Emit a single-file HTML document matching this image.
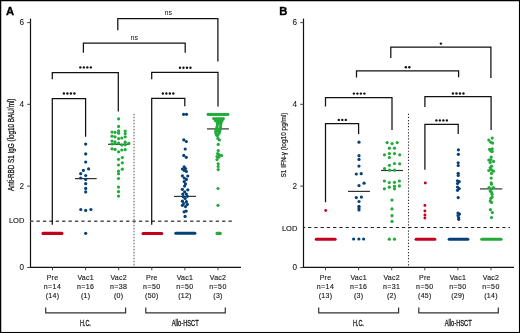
<!DOCTYPE html><html><head><meta charset="utf-8"><style>html,body{margin:0;padding:0;background:#fff;overflow:hidden}svg{display:block;will-change:transform}text{font-family:"Liberation Sans",sans-serif}</style></head><body>
<svg width="520" height="333" viewBox="0 0 520 333">
<rect x="0" y="0" width="520" height="333" fill="#fff"/>
<text x="6.1" y="15.2" font-size="11.2" font-weight="bold" fill="#000" stroke="#000" stroke-width="0.35">A</text>
<line x1="30.5" y1="18.6" x2="30.5" y2="267.9" stroke="#111" stroke-width="1.2"/>
<line x1="29.9" y1="267.3" x2="241" y2="267.3" stroke="#111" stroke-width="1.3"/>
<line x1="27.2" y1="22.6" x2="30.5" y2="22.6" stroke="#444" stroke-width="1"/>
<text x="24" y="25.25" font-size="8.2" text-anchor="end" fill="#222" stroke="#222" stroke-width="0.1">6</text>
<line x1="27.2" y1="104.3" x2="30.5" y2="104.3" stroke="#444" stroke-width="1"/>
<text x="24" y="106.95" font-size="8.2" text-anchor="end" fill="#222" stroke="#222" stroke-width="0.1">4</text>
<line x1="27.2" y1="186.1" x2="30.5" y2="186.1" stroke="#444" stroke-width="1"/>
<text x="24" y="188.75" font-size="8.2" text-anchor="end" fill="#222" stroke="#222" stroke-width="0.1">2</text>
<line x1="27.2" y1="267.5" x2="30.5" y2="267.5" stroke="#444" stroke-width="1"/>
<text x="24" y="270.15" font-size="8.2" text-anchor="end" fill="#222" stroke="#222" stroke-width="0.1">0</text>
<text x="24.3" y="223.2" font-size="8" text-anchor="end" textLength="15.4" lengthAdjust="spacingAndGlyphs" fill="#1a1a1a" stroke="#1a1a1a" stroke-width="0.15">LOD</text>
<text transform="translate(13.7,144.8) rotate(-90)" font-size="8.6" font-weight="normal" text-anchor="middle" textLength="92.4" lengthAdjust="spacingAndGlyphs" fill="#1a1a1a" stroke="#1a1a1a" stroke-width="0.3">Anti-RBD S1 IgG (log10 BAU/ml)</text>
<line x1="52.5" y1="267.3" x2="52.5" y2="270.3" stroke="#444" stroke-width="1"/>
<text x="52.5" y="279.9" font-size="7" text-anchor="middle" fill="#1c1c1c" stroke="#1c1c1c" stroke-width="0.15" letter-spacing="0.25">Pre</text>
<text x="52.5" y="288.8" font-size="7" text-anchor="middle" fill="#1c1c1c" stroke="#1c1c1c" stroke-width="0.15" letter-spacing="0.4">n=14</text>
<text x="52.5" y="297.7" font-size="7" text-anchor="middle" fill="#1c1c1c" stroke="#1c1c1c" stroke-width="0.15" letter-spacing="0.25">(14)</text>
<line x1="85.6" y1="267.3" x2="85.6" y2="270.3" stroke="#444" stroke-width="1"/>
<text x="85.6" y="279.9" font-size="7" text-anchor="middle" fill="#1c1c1c" stroke="#1c1c1c" stroke-width="0.15" letter-spacing="0.25">Vac1</text>
<text x="85.6" y="288.8" font-size="7" text-anchor="middle" fill="#1c1c1c" stroke="#1c1c1c" stroke-width="0.15" letter-spacing="0.4">n=16</text>
<text x="85.6" y="297.7" font-size="7" text-anchor="middle" fill="#1c1c1c" stroke="#1c1c1c" stroke-width="0.15" letter-spacing="0.25">(1)</text>
<line x1="118.7" y1="267.3" x2="118.7" y2="270.3" stroke="#444" stroke-width="1"/>
<text x="118.7" y="279.9" font-size="7" text-anchor="middle" fill="#1c1c1c" stroke="#1c1c1c" stroke-width="0.15" letter-spacing="0.25">Vac2</text>
<text x="118.7" y="288.8" font-size="7" text-anchor="middle" fill="#1c1c1c" stroke="#1c1c1c" stroke-width="0.15" letter-spacing="0.4">n=38</text>
<text x="118.7" y="297.7" font-size="7" text-anchor="middle" fill="#1c1c1c" stroke="#1c1c1c" stroke-width="0.15" letter-spacing="0.25">(0)</text>
<line x1="151.8" y1="267.3" x2="151.8" y2="270.3" stroke="#444" stroke-width="1"/>
<text x="151.8" y="279.9" font-size="7" text-anchor="middle" fill="#1c1c1c" stroke="#1c1c1c" stroke-width="0.15" letter-spacing="0.25">Pre</text>
<text x="151.8" y="288.8" font-size="7" text-anchor="middle" fill="#1c1c1c" stroke="#1c1c1c" stroke-width="0.15" letter-spacing="0.4">n=50</text>
<text x="151.8" y="297.7" font-size="7" text-anchor="middle" fill="#1c1c1c" stroke="#1c1c1c" stroke-width="0.15" letter-spacing="0.25">(50)</text>
<line x1="184.9" y1="267.3" x2="184.9" y2="270.3" stroke="#444" stroke-width="1"/>
<text x="184.9" y="279.9" font-size="7" text-anchor="middle" fill="#1c1c1c" stroke="#1c1c1c" stroke-width="0.15" letter-spacing="0.25">Vac1</text>
<text x="184.9" y="288.8" font-size="7" text-anchor="middle" fill="#1c1c1c" stroke="#1c1c1c" stroke-width="0.15" letter-spacing="0.4">n=50</text>
<text x="184.9" y="297.7" font-size="7" text-anchor="middle" fill="#1c1c1c" stroke="#1c1c1c" stroke-width="0.15" letter-spacing="0.25">(12)</text>
<line x1="218.0" y1="267.3" x2="218.0" y2="270.3" stroke="#444" stroke-width="1"/>
<text x="218.0" y="279.9" font-size="7" text-anchor="middle" fill="#1c1c1c" stroke="#1c1c1c" stroke-width="0.15" letter-spacing="0.25">Vac2</text>
<text x="218.0" y="288.8" font-size="7" text-anchor="middle" fill="#1c1c1c" stroke="#1c1c1c" stroke-width="0.15" letter-spacing="0.4">n=50</text>
<text x="218.0" y="297.7" font-size="7" text-anchor="middle" fill="#1c1c1c" stroke="#1c1c1c" stroke-width="0.15" letter-spacing="0.25">(3)</text>
<path d="M45.7,307.5V312.8H125.6V307.5" fill="none" stroke="#333" stroke-width="1.2"/>
<path d="M145.8,307.5V312.8H225.3V307.5" fill="none" stroke="#333" stroke-width="1.2"/>
<text x="85.4" y="326.2" font-size="9" text-anchor="middle" textLength="11" lengthAdjust="spacingAndGlyphs" fill="#111" stroke="#111" stroke-width="0.3">H.C.</text>
<text x="185.2" y="326.2" font-size="9" text-anchor="middle" textLength="27" lengthAdjust="spacingAndGlyphs" fill="#111" stroke="#111" stroke-width="0.3">Allo-HSCT</text>
<line x1="134" y1="113.8" x2="134" y2="267" stroke="#555" stroke-width="1" stroke-dasharray="1.5,1.5"/>
<line x1="30.1" y1="221.2" x2="232" y2="221.2" stroke="#505050" stroke-width="1.6" stroke-dasharray="3.3,3.1"/>
<path d="M117.8,30.2V18.5H217.9V61.5" fill="none" stroke="#111" stroke-width="1.25"/>
<text x="168.4" y="15.3" font-size="7.2" text-anchor="middle" fill="#111">ns</text>
<path d="M83.4,52.8V43.1H185.2V52.8" fill="none" stroke="#111" stroke-width="1.25"/>
<text x="134.4" y="40" font-size="7.2" text-anchor="middle" fill="#111">ns</text>
<path d="M52.3,79.2V72.5H118.3V111.5" fill="none" stroke="#111" stroke-width="1.25"/>
<circle cx="80.35" cy="67.4" r="1.2" fill="#111"/>
<circle cx="83.85" cy="67.4" r="1.2" fill="#111"/>
<circle cx="87.35" cy="67.4" r="1.2" fill="#111"/>
<circle cx="90.85" cy="67.4" r="1.2" fill="#111"/>
<path d="M52.3,224.7V98.5H85.6V136.7" fill="none" stroke="#111" stroke-width="1.25"/>
<circle cx="63.90" cy="93.45" r="1.2" fill="#111"/>
<circle cx="67.40" cy="93.45" r="1.2" fill="#111"/>
<circle cx="70.90" cy="93.45" r="1.2" fill="#111"/>
<circle cx="74.40" cy="93.45" r="1.2" fill="#111"/>
<path d="M151.7,79.3V72.4H218V106.4" fill="none" stroke="#111" stroke-width="1.25"/>
<circle cx="179.95" cy="67.8" r="1.2" fill="#111"/>
<circle cx="183.45" cy="67.8" r="1.2" fill="#111"/>
<circle cx="186.95" cy="67.8" r="1.2" fill="#111"/>
<circle cx="190.45" cy="67.8" r="1.2" fill="#111"/>
<path d="M151.7,224.7V98.4H184.8V106.3" fill="none" stroke="#111" stroke-width="1.25"/>
<circle cx="162.85" cy="93.5" r="1.2" fill="#111"/>
<circle cx="166.35" cy="93.5" r="1.2" fill="#111"/>
<circle cx="169.85" cy="93.5" r="1.2" fill="#111"/>
<circle cx="173.35" cy="93.5" r="1.2" fill="#111"/>
<line x1="75" y1="178.6" x2="96.7" y2="178.6" stroke="#333" stroke-width="1.2"/>
<line x1="108" y1="144.3" x2="129.7" y2="144.3" stroke="#333" stroke-width="1.2"/>
<line x1="174" y1="196.4" x2="196" y2="196.4" stroke="#333" stroke-width="1.2"/>
<line x1="207" y1="128.9" x2="228.9" y2="128.9" stroke="#333" stroke-width="1.2"/>
<line x1="348" y1="191.4" x2="369.9" y2="191.4" stroke="#333" stroke-width="1.2"/>
<line x1="381" y1="170.5" x2="403" y2="170.5" stroke="#333" stroke-width="1.2"/>
<line x1="480" y1="188.9" x2="502.3" y2="188.9" stroke="#333" stroke-width="1.2"/>
<line x1="43.0" y1="233.4" x2="61.9" y2="233.4" stroke="#c4001f" stroke-width="3.1" stroke-linecap="round"/>
<circle cx="85.7" cy="144.1" r="1.6" fill="#054078"/>
<circle cx="85.7" cy="153.9" r="1.6" fill="#054078"/>
<circle cx="85.7" cy="162" r="1.6" fill="#054078"/>
<circle cx="88.6" cy="168.9" r="1.6" fill="#054078"/>
<circle cx="83.4" cy="170.4" r="1.6" fill="#054078"/>
<circle cx="80.7" cy="173.7" r="1.6" fill="#054078"/>
<circle cx="85.7" cy="175.5" r="1.6" fill="#054078"/>
<circle cx="80.7" cy="178" r="1.6" fill="#054078"/>
<circle cx="85.7" cy="179.4" r="1.6" fill="#054078"/>
<circle cx="85.7" cy="183.7" r="1.6" fill="#054078"/>
<circle cx="85.7" cy="188.4" r="1.6" fill="#054078"/>
<circle cx="85.7" cy="191.9" r="1.6" fill="#054078"/>
<circle cx="80.8" cy="209.5" r="1.6" fill="#054078"/>
<circle cx="85.7" cy="210.4" r="1.6" fill="#054078"/>
<circle cx="90.9" cy="209.5" r="1.6" fill="#054078"/>
<circle cx="85.7" cy="233.3" r="1.6" fill="#054078"/>
<circle cx="118.6" cy="118.8" r="1.6" fill="#22aa3a"/>
<circle cx="118.6" cy="126.4" r="1.6" fill="#22aa3a"/>
<circle cx="112" cy="132" r="1.6" fill="#22aa3a"/>
<circle cx="115" cy="132.3" r="1.6" fill="#22aa3a"/>
<circle cx="118.6" cy="130.8" r="1.6" fill="#22aa3a"/>
<circle cx="125.2" cy="131" r="1.6" fill="#22aa3a"/>
<circle cx="118.6" cy="133.2" r="1.6" fill="#22aa3a"/>
<circle cx="125.2" cy="133.6" r="1.6" fill="#22aa3a"/>
<circle cx="112" cy="136.2" r="1.6" fill="#22aa3a"/>
<circle cx="115" cy="136.8" r="1.6" fill="#22aa3a"/>
<circle cx="118.6" cy="138.6" r="1.6" fill="#22aa3a"/>
<circle cx="121.8" cy="138" r="1.6" fill="#22aa3a"/>
<circle cx="125.2" cy="136.8" r="1.6" fill="#22aa3a"/>
<circle cx="112" cy="141" r="1.6" fill="#22aa3a"/>
<circle cx="115" cy="141.9" r="1.6" fill="#22aa3a"/>
<circle cx="112" cy="144" r="1.6" fill="#22aa3a"/>
<circle cx="115" cy="143.6" r="1.6" fill="#22aa3a"/>
<circle cx="118.6" cy="143.1" r="1.6" fill="#22aa3a"/>
<circle cx="121.8" cy="145" r="1.6" fill="#22aa3a"/>
<circle cx="125.2" cy="142.2" r="1.6" fill="#22aa3a"/>
<circle cx="125.2" cy="144.8" r="1.6" fill="#22aa3a"/>
<circle cx="128.8" cy="143.4" r="1.6" fill="#22aa3a"/>
<circle cx="112" cy="148.8" r="1.6" fill="#22aa3a"/>
<circle cx="115" cy="149.4" r="1.6" fill="#22aa3a"/>
<circle cx="118.6" cy="151.8" r="1.6" fill="#22aa3a"/>
<circle cx="121.8" cy="150" r="1.6" fill="#22aa3a"/>
<circle cx="125.2" cy="149.7" r="1.6" fill="#22aa3a"/>
<circle cx="118.5" cy="159.3" r="1.6" fill="#22aa3a"/>
<circle cx="122.3" cy="157.5" r="1.6" fill="#22aa3a"/>
<circle cx="118.5" cy="165" r="1.6" fill="#22aa3a"/>
<circle cx="122.3" cy="162.8" r="1.6" fill="#22aa3a"/>
<circle cx="118.5" cy="171" r="1.6" fill="#22aa3a"/>
<circle cx="122.3" cy="169.2" r="1.6" fill="#22aa3a"/>
<circle cx="118.5" cy="173.7" r="1.6" fill="#22aa3a"/>
<circle cx="118.5" cy="178.5" r="1.6" fill="#22aa3a"/>
<circle cx="118.5" cy="187.1" r="1.6" fill="#22aa3a"/>
<circle cx="118.5" cy="191.7" r="1.6" fill="#22aa3a"/>
<circle cx="118.5" cy="196.1" r="1.6" fill="#22aa3a"/>
<line x1="143.0" y1="233.5" x2="161.8" y2="233.5" stroke="#c4001f" stroke-width="3.1" stroke-linecap="round"/>
<circle cx="183.6" cy="114.3" r="1.6" fill="#054078"/>
<circle cx="186.5" cy="114.3" r="1.6" fill="#054078"/>
<circle cx="183.8" cy="139.8" r="1.6" fill="#054078"/>
<circle cx="186.3" cy="141.5" r="1.6" fill="#054078"/>
<circle cx="185.2" cy="149" r="1.6" fill="#054078"/>
<circle cx="183.8" cy="155.4" r="1.6" fill="#054078"/>
<circle cx="186.3" cy="157.3" r="1.6" fill="#054078"/>
<circle cx="184.2" cy="166.8" r="1.6" fill="#054078"/>
<circle cx="182.4" cy="169" r="1.6" fill="#054078"/>
<circle cx="185.5" cy="168.6" r="1.6" fill="#054078"/>
<circle cx="184.2" cy="170.4" r="1.6" fill="#054078"/>
<circle cx="186.4" cy="171.5" r="1.6" fill="#054078"/>
<circle cx="182.4" cy="175.8" r="1.6" fill="#054078"/>
<circle cx="187.8" cy="176" r="1.6" fill="#054078"/>
<circle cx="184.2" cy="178" r="1.6" fill="#054078"/>
<circle cx="186.4" cy="179.4" r="1.6" fill="#054078"/>
<circle cx="184.2" cy="181.6" r="1.6" fill="#054078"/>
<circle cx="185.5" cy="183.9" r="1.6" fill="#054078"/>
<circle cx="184.6" cy="186.1" r="1.6" fill="#054078"/>
<circle cx="182.4" cy="189.3" r="1.6" fill="#054078"/>
<circle cx="187.8" cy="189.8" r="1.6" fill="#054078"/>
<circle cx="184.6" cy="191.8" r="1.6" fill="#054078"/>
<circle cx="182.8" cy="194" r="1.6" fill="#054078"/>
<circle cx="186.4" cy="194" r="1.6" fill="#054078"/>
<circle cx="183.3" cy="196.7" r="1.6" fill="#054078"/>
<circle cx="187.3" cy="196.3" r="1.6" fill="#054078"/>
<circle cx="185.1" cy="198.5" r="1.6" fill="#054078"/>
<circle cx="182.4" cy="201.2" r="1.6" fill="#054078"/>
<circle cx="186.4" cy="201.7" r="1.6" fill="#054078"/>
<circle cx="183.7" cy="203.5" r="1.6" fill="#054078"/>
<circle cx="187.3" cy="204.4" r="1.6" fill="#054078"/>
<circle cx="182.4" cy="205.3" r="1.6" fill="#054078"/>
<circle cx="185.5" cy="206.6" r="1.6" fill="#054078"/>
<circle cx="186.2" cy="211.1" r="1.6" fill="#054078"/>
<circle cx="184.1" cy="211.8" r="1.6" fill="#054078"/>
<circle cx="185.1" cy="216.4" r="1.6" fill="#054078"/>
<line x1="175.8" y1="233.3" x2="194.9" y2="233.3" stroke="#054078" stroke-width="3.1" stroke-linecap="round"/>
<circle cx="208.2" cy="114.4" r="1.6" fill="#22aa3a"/>
<circle cx="210.16" cy="114.4" r="1.6" fill="#22aa3a"/>
<circle cx="212.12" cy="114.4" r="1.6" fill="#22aa3a"/>
<circle cx="214.08" cy="114.4" r="1.6" fill="#22aa3a"/>
<circle cx="216.04" cy="114.4" r="1.6" fill="#22aa3a"/>
<circle cx="218.0" cy="114.4" r="1.6" fill="#22aa3a"/>
<circle cx="219.96" cy="114.4" r="1.6" fill="#22aa3a"/>
<circle cx="221.92" cy="114.4" r="1.6" fill="#22aa3a"/>
<circle cx="223.88" cy="114.4" r="1.6" fill="#22aa3a"/>
<circle cx="225.84" cy="114.4" r="1.6" fill="#22aa3a"/>
<circle cx="227.8" cy="114.4" r="1.6" fill="#22aa3a"/>
<circle cx="213.7" cy="118.6" r="1.6" fill="#22aa3a"/>
<circle cx="216.1" cy="118.6" r="1.6" fill="#22aa3a"/>
<circle cx="218.5" cy="118.6" r="1.6" fill="#22aa3a"/>
<circle cx="220.9" cy="118.6" r="1.6" fill="#22aa3a"/>
<circle cx="223.3" cy="118.6" r="1.6" fill="#22aa3a"/>
<circle cx="215.5" cy="120.7" r="1.6" fill="#22aa3a"/>
<circle cx="218.4" cy="120.7" r="1.6" fill="#22aa3a"/>
<circle cx="220.6" cy="120.7" r="1.6" fill="#22aa3a"/>
<circle cx="222.1" cy="120.7" r="1.6" fill="#22aa3a"/>
<circle cx="217.3" cy="122.8" r="1.6" fill="#22aa3a"/>
<circle cx="219.2" cy="122.8" r="1.6" fill="#22aa3a"/>
<circle cx="221.1" cy="122.8" r="1.6" fill="#22aa3a"/>
<circle cx="217.5" cy="124.9" r="1.6" fill="#22aa3a"/>
<circle cx="220.7" cy="124.9" r="1.6" fill="#22aa3a"/>
<circle cx="216.9" cy="127" r="1.6" fill="#22aa3a"/>
<circle cx="220.5" cy="127" r="1.6" fill="#22aa3a"/>
<circle cx="215.9" cy="129.1" r="1.6" fill="#22aa3a"/>
<circle cx="218.9" cy="129.1" r="1.6" fill="#22aa3a"/>
<circle cx="220.5" cy="129.1" r="1.6" fill="#22aa3a"/>
<circle cx="215.7" cy="131.2" r="1.6" fill="#22aa3a"/>
<circle cx="217.7" cy="131.2" r="1.6" fill="#22aa3a"/>
<circle cx="219.7" cy="131.2" r="1.6" fill="#22aa3a"/>
<circle cx="215.9" cy="133.3" r="1.6" fill="#22aa3a"/>
<circle cx="219.1" cy="133.3" r="1.6" fill="#22aa3a"/>
<circle cx="216.7" cy="135.3" r="1.6" fill="#22aa3a"/>
<circle cx="217.7" cy="135.3" r="1.6" fill="#22aa3a"/>
<circle cx="217.9" cy="138.4" r="1.6" fill="#22aa3a"/>
<circle cx="219.4" cy="140" r="1.6" fill="#22aa3a"/>
<circle cx="218.2" cy="144.4" r="1.6" fill="#22aa3a"/>
<circle cx="218.2" cy="150.6" r="1.6" fill="#22aa3a"/>
<circle cx="217.6" cy="153.6" r="1.6" fill="#22aa3a"/>
<circle cx="219.4" cy="154.8" r="1.6" fill="#22aa3a"/>
<circle cx="221.6" cy="155.6" r="1.6" fill="#22aa3a"/>
<circle cx="217" cy="156.6" r="1.6" fill="#22aa3a"/>
<circle cx="218.8" cy="157.2" r="1.6" fill="#22aa3a"/>
<circle cx="217" cy="159.6" r="1.6" fill="#22aa3a"/>
<circle cx="218.2" cy="163.8" r="1.6" fill="#22aa3a"/>
<circle cx="218.2" cy="166.5" r="1.6" fill="#22aa3a"/>
<circle cx="218.2" cy="169.6" r="1.6" fill="#22aa3a"/>
<circle cx="218" cy="188.5" r="1.6" fill="#22aa3a"/>
<circle cx="218" cy="205.3" r="1.6" fill="#22aa3a"/>
<line x1="217.0" y1="233.4" x2="220.3" y2="233.4" stroke="#22aa3a" stroke-width="3.1" stroke-linecap="round"/>
<text x="279.3" y="14.8" font-size="11.2" font-weight="bold" fill="#000" stroke="#000" stroke-width="0.35">B</text>
<line x1="303.5" y1="18.6" x2="303.5" y2="267.9" stroke="#111" stroke-width="1.2"/>
<line x1="302.9" y1="267.3" x2="514" y2="267.3" stroke="#111" stroke-width="1.3"/>
<line x1="300.2" y1="22.6" x2="303.5" y2="22.6" stroke="#444" stroke-width="1"/>
<text x="297" y="25.25" font-size="8.2" text-anchor="end" fill="#222" stroke="#222" stroke-width="0.1">6</text>
<line x1="300.2" y1="104.3" x2="303.5" y2="104.3" stroke="#444" stroke-width="1"/>
<text x="297" y="106.95" font-size="8.2" text-anchor="end" fill="#222" stroke="#222" stroke-width="0.1">4</text>
<line x1="300.2" y1="186.1" x2="303.5" y2="186.1" stroke="#444" stroke-width="1"/>
<text x="297" y="188.75" font-size="8.2" text-anchor="end" fill="#222" stroke="#222" stroke-width="0.1">2</text>
<line x1="300.2" y1="267.5" x2="303.5" y2="267.5" stroke="#444" stroke-width="1"/>
<text x="297" y="270.15" font-size="8.2" text-anchor="end" fill="#222" stroke="#222" stroke-width="0.1">0</text>
<text x="297.3" y="230.6" font-size="8" text-anchor="end" textLength="15.4" lengthAdjust="spacingAndGlyphs" fill="#1a1a1a" stroke="#1a1a1a" stroke-width="0.15">LOD</text>
<text transform="translate(286.4,145) rotate(-90)" font-size="7.4" font-weight="normal" text-anchor="middle" textLength="65" lengthAdjust="spacingAndGlyphs" fill="#1a1a1a" stroke="#1a1a1a" stroke-width="0.2">S1 IFN-γ (log10 pg/ml)</text>
<line x1="325.5" y1="267.3" x2="325.5" y2="270.3" stroke="#444" stroke-width="1"/>
<text x="325.5" y="279.9" font-size="7" text-anchor="middle" fill="#1c1c1c" stroke="#1c1c1c" stroke-width="0.15" letter-spacing="0.25">Pre</text>
<text x="325.5" y="288.8" font-size="7" text-anchor="middle" fill="#1c1c1c" stroke="#1c1c1c" stroke-width="0.15" letter-spacing="0.4">n=14</text>
<text x="325.5" y="297.7" font-size="7" text-anchor="middle" fill="#1c1c1c" stroke="#1c1c1c" stroke-width="0.15" letter-spacing="0.25">(13)</text>
<line x1="358.6" y1="267.3" x2="358.6" y2="270.3" stroke="#444" stroke-width="1"/>
<text x="358.6" y="279.9" font-size="7" text-anchor="middle" fill="#1c1c1c" stroke="#1c1c1c" stroke-width="0.15" letter-spacing="0.25">Vac1</text>
<text x="358.6" y="288.8" font-size="7" text-anchor="middle" fill="#1c1c1c" stroke="#1c1c1c" stroke-width="0.15" letter-spacing="0.4">n=16</text>
<text x="358.6" y="297.7" font-size="7" text-anchor="middle" fill="#1c1c1c" stroke="#1c1c1c" stroke-width="0.15" letter-spacing="0.25">(3)</text>
<line x1="391.7" y1="267.3" x2="391.7" y2="270.3" stroke="#444" stroke-width="1"/>
<text x="391.7" y="279.9" font-size="7" text-anchor="middle" fill="#1c1c1c" stroke="#1c1c1c" stroke-width="0.15" letter-spacing="0.25">Vac2</text>
<text x="391.7" y="288.8" font-size="7" text-anchor="middle" fill="#1c1c1c" stroke="#1c1c1c" stroke-width="0.15" letter-spacing="0.4">n=31</text>
<text x="391.7" y="297.7" font-size="7" text-anchor="middle" fill="#1c1c1c" stroke="#1c1c1c" stroke-width="0.15" letter-spacing="0.25">(2)</text>
<line x1="424.8" y1="267.3" x2="424.8" y2="270.3" stroke="#444" stroke-width="1"/>
<text x="424.8" y="279.9" font-size="7" text-anchor="middle" fill="#1c1c1c" stroke="#1c1c1c" stroke-width="0.15" letter-spacing="0.25">Pre</text>
<text x="424.8" y="288.8" font-size="7" text-anchor="middle" fill="#1c1c1c" stroke="#1c1c1c" stroke-width="0.15" letter-spacing="0.4">n=50</text>
<text x="424.8" y="297.7" font-size="7" text-anchor="middle" fill="#1c1c1c" stroke="#1c1c1c" stroke-width="0.15" letter-spacing="0.25">(45)</text>
<line x1="457.9" y1="267.3" x2="457.9" y2="270.3" stroke="#444" stroke-width="1"/>
<text x="457.9" y="279.9" font-size="7" text-anchor="middle" fill="#1c1c1c" stroke="#1c1c1c" stroke-width="0.15" letter-spacing="0.25">Vac1</text>
<text x="457.9" y="288.8" font-size="7" text-anchor="middle" fill="#1c1c1c" stroke="#1c1c1c" stroke-width="0.15" letter-spacing="0.4">n=50</text>
<text x="457.9" y="297.7" font-size="7" text-anchor="middle" fill="#1c1c1c" stroke="#1c1c1c" stroke-width="0.15" letter-spacing="0.25">(29)</text>
<line x1="491.0" y1="267.3" x2="491.0" y2="270.3" stroke="#444" stroke-width="1"/>
<text x="491.0" y="279.9" font-size="7" text-anchor="middle" fill="#1c1c1c" stroke="#1c1c1c" stroke-width="0.15" letter-spacing="0.25">Vac2</text>
<text x="491.0" y="288.8" font-size="7" text-anchor="middle" fill="#1c1c1c" stroke="#1c1c1c" stroke-width="0.15" letter-spacing="0.4">n=50</text>
<text x="491.0" y="297.7" font-size="7" text-anchor="middle" fill="#1c1c1c" stroke="#1c1c1c" stroke-width="0.15" letter-spacing="0.25">(14)</text>
<path d="M318.7,307.5V312.8H398.6V307.5" fill="none" stroke="#333" stroke-width="1.2"/>
<path d="M418.8,307.5V312.8H498.3V307.5" fill="none" stroke="#333" stroke-width="1.2"/>
<text x="358.4" y="326.2" font-size="9" text-anchor="middle" textLength="11" lengthAdjust="spacingAndGlyphs" fill="#111" stroke="#111" stroke-width="0.3">H.C.</text>
<text x="458.2" y="326.2" font-size="9" text-anchor="middle" textLength="27" lengthAdjust="spacingAndGlyphs" fill="#111" stroke="#111" stroke-width="0.3">Allo-HSCT</text>
<line x1="408.5" y1="113.8" x2="408.5" y2="267" stroke="#2a2a2a" stroke-width="1.1" stroke-dasharray="1.2,1.87"/>
<line x1="303.6" y1="227.5" x2="305.2" y2="227.5" stroke="#222" stroke-width="1.1"/>
<line x1="308" y1="227.5" x2="510" y2="227.5" stroke="#222" stroke-width="1.1" stroke-dasharray="3.3,2.965"/>
<path d="M390.8,57.9V47.1H490.9V78.1" fill="none" stroke="#111" stroke-width="1.25"/>
<circle cx="440.90" cy="43.6" r="1.2" fill="#111"/>
<path d="M356.5,77.4V70.8H458.6V77.3" fill="none" stroke="#111" stroke-width="1.25"/>
<circle cx="405.85" cy="67.3" r="1.2" fill="#111"/>
<circle cx="409.35" cy="67.3" r="1.2" fill="#111"/>
<path d="M325.5,106.6V97.5H392V130" fill="none" stroke="#111" stroke-width="1.25"/>
<circle cx="353.90" cy="93.6" r="1.2" fill="#111"/>
<circle cx="357.40" cy="93.6" r="1.2" fill="#111"/>
<circle cx="360.90" cy="93.6" r="1.2" fill="#111"/>
<circle cx="364.40" cy="93.6" r="1.2" fill="#111"/>
<path d="M325.5,202.2V123.5H358.6V134" fill="none" stroke="#111" stroke-width="1.25"/>
<circle cx="338.80" cy="119.9" r="1.2" fill="#111"/>
<circle cx="342.30" cy="119.9" r="1.2" fill="#111"/>
<circle cx="345.80" cy="119.9" r="1.2" fill="#111"/>
<path d="M424.9,106.9V96.5H491.1V130.1" fill="none" stroke="#111" stroke-width="1.25"/>
<circle cx="452.95" cy="93.5" r="1.2" fill="#111"/>
<circle cx="456.45" cy="93.5" r="1.2" fill="#111"/>
<circle cx="459.95" cy="93.5" r="1.2" fill="#111"/>
<circle cx="463.45" cy="93.5" r="1.2" fill="#111"/>
<path d="M424.9,169.7V124.4H458.2V134.1" fill="none" stroke="#111" stroke-width="1.25"/>
<circle cx="436.35" cy="120.4" r="1.2" fill="#111"/>
<circle cx="439.85" cy="120.4" r="1.2" fill="#111"/>
<circle cx="443.35" cy="120.4" r="1.2" fill="#111"/>
<circle cx="446.85" cy="120.4" r="1.2" fill="#111"/>
<circle cx="325.7" cy="210.5" r="1.4" fill="#c4001f"/>
<line x1="316.3" y1="239.3" x2="335.1" y2="239.3" stroke="#c4001f" stroke-width="3.1" stroke-linecap="round"/>
<circle cx="359" cy="142.2" r="1.6" fill="#054078"/>
<circle cx="359" cy="155.7" r="1.6" fill="#054078"/>
<circle cx="359" cy="159.4" r="1.6" fill="#054078"/>
<circle cx="359" cy="166.1" r="1.6" fill="#054078"/>
<circle cx="356.3" cy="174" r="1.6" fill="#054078"/>
<circle cx="361.2" cy="173.7" r="1.6" fill="#054078"/>
<circle cx="359" cy="185.6" r="1.6" fill="#054078"/>
<circle cx="364.1" cy="183.2" r="1.6" fill="#054078"/>
<circle cx="356.3" cy="197.6" r="1.6" fill="#054078"/>
<circle cx="361.4" cy="197.1" r="1.6" fill="#054078"/>
<circle cx="359" cy="201.5" r="1.6" fill="#054078"/>
<circle cx="359" cy="206.3" r="1.6" fill="#054078"/>
<circle cx="359" cy="208.1" r="1.6" fill="#054078"/>
<circle cx="359" cy="209.9" r="1.6" fill="#054078"/>
<circle cx="353.6" cy="239" r="1.6" fill="#054078"/>
<circle cx="358.9" cy="239" r="1.6" fill="#054078"/>
<circle cx="363.6" cy="239" r="1.6" fill="#054078"/>
<circle cx="387.1" cy="142.6" r="1.6" fill="#22aa3a"/>
<circle cx="392.1" cy="143.6" r="1.6" fill="#22aa3a"/>
<circle cx="397.2" cy="142.6" r="1.6" fill="#22aa3a"/>
<circle cx="389.4" cy="148.2" r="1.6" fill="#22aa3a"/>
<circle cx="394.5" cy="148.2" r="1.6" fill="#22aa3a"/>
<circle cx="384.5" cy="154.8" r="1.6" fill="#22aa3a"/>
<circle cx="389.4" cy="153.6" r="1.6" fill="#22aa3a"/>
<circle cx="394.5" cy="153.6" r="1.6" fill="#22aa3a"/>
<circle cx="399.7" cy="154.8" r="1.6" fill="#22aa3a"/>
<circle cx="389.4" cy="157.5" r="1.6" fill="#22aa3a"/>
<circle cx="389.4" cy="165.3" r="1.6" fill="#22aa3a"/>
<circle cx="394.5" cy="163.5" r="1.6" fill="#22aa3a"/>
<circle cx="399.7" cy="163.8" r="1.6" fill="#22aa3a"/>
<circle cx="384.5" cy="168.6" r="1.6" fill="#22aa3a"/>
<circle cx="389.6" cy="170.2" r="1.6" fill="#22aa3a"/>
<circle cx="394.6" cy="170.2" r="1.6" fill="#22aa3a"/>
<circle cx="384.4" cy="181" r="1.6" fill="#22aa3a"/>
<circle cx="389.3" cy="182.5" r="1.6" fill="#22aa3a"/>
<circle cx="394.5" cy="182.3" r="1.6" fill="#22aa3a"/>
<circle cx="399.4" cy="181" r="1.6" fill="#22aa3a"/>
<circle cx="384.4" cy="188.8" r="1.6" fill="#22aa3a"/>
<circle cx="389.3" cy="187.2" r="1.6" fill="#22aa3a"/>
<circle cx="394.5" cy="186.3" r="1.6" fill="#22aa3a"/>
<circle cx="399.4" cy="185.9" r="1.6" fill="#22aa3a"/>
<circle cx="394.5" cy="188.8" r="1.6" fill="#22aa3a"/>
<circle cx="392" cy="200.1" r="1.6" fill="#22aa3a"/>
<circle cx="392" cy="208.9" r="1.6" fill="#22aa3a"/>
<circle cx="392" cy="215.7" r="1.6" fill="#22aa3a"/>
<circle cx="392" cy="221.4" r="1.6" fill="#22aa3a"/>
<circle cx="389.3" cy="239.2" r="1.6" fill="#22aa3a"/>
<circle cx="394.5" cy="239.2" r="1.6" fill="#22aa3a"/>
<circle cx="425.3" cy="183" r="1.45" fill="#c4001f"/>
<circle cx="424.9" cy="205.4" r="1.45" fill="#c4001f"/>
<circle cx="424.9" cy="211" r="1.45" fill="#c4001f"/>
<circle cx="424.9" cy="215" r="1.45" fill="#c4001f"/>
<circle cx="424.9" cy="218" r="1.45" fill="#c4001f"/>
<line x1="416.1" y1="239.2" x2="434.8" y2="239.2" stroke="#c4001f" stroke-width="3.1" stroke-linecap="round"/>
<circle cx="458.4" cy="149.8" r="1.6" fill="#054078"/>
<circle cx="458.4" cy="154.3" r="1.6" fill="#054078"/>
<circle cx="458.2" cy="162.8" r="1.6" fill="#054078"/>
<circle cx="458.2" cy="165.5" r="1.6" fill="#054078"/>
<circle cx="458.2" cy="173.3" r="1.6" fill="#054078"/>
<circle cx="458.2" cy="175.4" r="1.6" fill="#054078"/>
<circle cx="457.5" cy="180.8" r="1.6" fill="#054078"/>
<circle cx="459.2" cy="181.7" r="1.6" fill="#054078"/>
<circle cx="457.5" cy="183.5" r="1.6" fill="#054078"/>
<circle cx="457.5" cy="187.1" r="1.6" fill="#054078"/>
<circle cx="459.2" cy="188.6" r="1.6" fill="#054078"/>
<circle cx="457.5" cy="190.3" r="1.6" fill="#054078"/>
<circle cx="458.2" cy="197.6" r="1.6" fill="#054078"/>
<circle cx="458.0" cy="213.0" r="1.6" fill="#054078"/>
<circle cx="459.5" cy="214.1" r="1.6" fill="#054078"/>
<circle cx="458.0" cy="215.6" r="1.6" fill="#054078"/>
<circle cx="458.7" cy="217.8" r="1.6" fill="#054078"/>
<circle cx="458.7" cy="219.3" r="1.6" fill="#054078"/>
<line x1="449.2" y1="239.3" x2="467.8" y2="239.3" stroke="#054078" stroke-width="3.1" stroke-linecap="round"/>
<circle cx="492.2" cy="138.1" r="1.6" fill="#22aa3a"/>
<circle cx="488.8" cy="140.1" r="1.6" fill="#22aa3a"/>
<circle cx="490.8" cy="142.2" r="1.6" fill="#22aa3a"/>
<circle cx="492.6" cy="143.1" r="1.6" fill="#22aa3a"/>
<circle cx="489.5" cy="149.3" r="1.6" fill="#22aa3a"/>
<circle cx="492.2" cy="148.9" r="1.6" fill="#22aa3a"/>
<circle cx="490.8" cy="150.9" r="1.6" fill="#22aa3a"/>
<circle cx="492.2" cy="151.6" r="1.6" fill="#22aa3a"/>
<circle cx="491.2" cy="157" r="1.6" fill="#22aa3a"/>
<circle cx="488.8" cy="160" r="1.6" fill="#22aa3a"/>
<circle cx="490.8" cy="159.5" r="1.6" fill="#22aa3a"/>
<circle cx="493.5" cy="161.4" r="1.6" fill="#22aa3a"/>
<circle cx="490.2" cy="162.4" r="1.6" fill="#22aa3a"/>
<circle cx="491.5" cy="166.2" r="1.6" fill="#22aa3a"/>
<circle cx="490.2" cy="167.8" r="1.6" fill="#22aa3a"/>
<circle cx="488.8" cy="170.5" r="1.6" fill="#22aa3a"/>
<circle cx="491.5" cy="169.9" r="1.6" fill="#22aa3a"/>
<circle cx="493.5" cy="171.2" r="1.6" fill="#22aa3a"/>
<circle cx="491.5" cy="173.4" r="1.6" fill="#22aa3a"/>
<circle cx="491.2" cy="178.1" r="1.6" fill="#22aa3a"/>
<circle cx="491.2" cy="182.8" r="1.6" fill="#22aa3a"/>
<circle cx="491.5" cy="184.2" r="1.6" fill="#22aa3a"/>
<circle cx="489.1" cy="187.6" r="1.6" fill="#22aa3a"/>
<circle cx="493.5" cy="187.6" r="1.6" fill="#22aa3a"/>
<circle cx="491.5" cy="188.9" r="1.6" fill="#22aa3a"/>
<circle cx="490.2" cy="191" r="1.6" fill="#22aa3a"/>
<circle cx="491.5" cy="192.3" r="1.6" fill="#22aa3a"/>
<circle cx="492.2" cy="194.3" r="1.6" fill="#22aa3a"/>
<circle cx="490.8" cy="198.4" r="1.6" fill="#22aa3a"/>
<circle cx="492.2" cy="197" r="1.6" fill="#22aa3a"/>
<circle cx="490.2" cy="201.1" r="1.6" fill="#22aa3a"/>
<circle cx="491.5" cy="202.4" r="1.6" fill="#22aa3a"/>
<circle cx="490.4" cy="209.7" r="1.6" fill="#22aa3a"/>
<circle cx="492.3" cy="212.5" r="1.6" fill="#22aa3a"/>
<circle cx="491.5" cy="217.6" r="1.6" fill="#22aa3a"/>
<line x1="481.7" y1="239.2" x2="501.1" y2="239.2" stroke="#22aa3a" stroke-width="3.1" stroke-linecap="round"/>
<rect x="0.6" y="0.6" width="519" height="332" fill="none" stroke="#000" stroke-width="1.3"/>
</svg></body></html>
